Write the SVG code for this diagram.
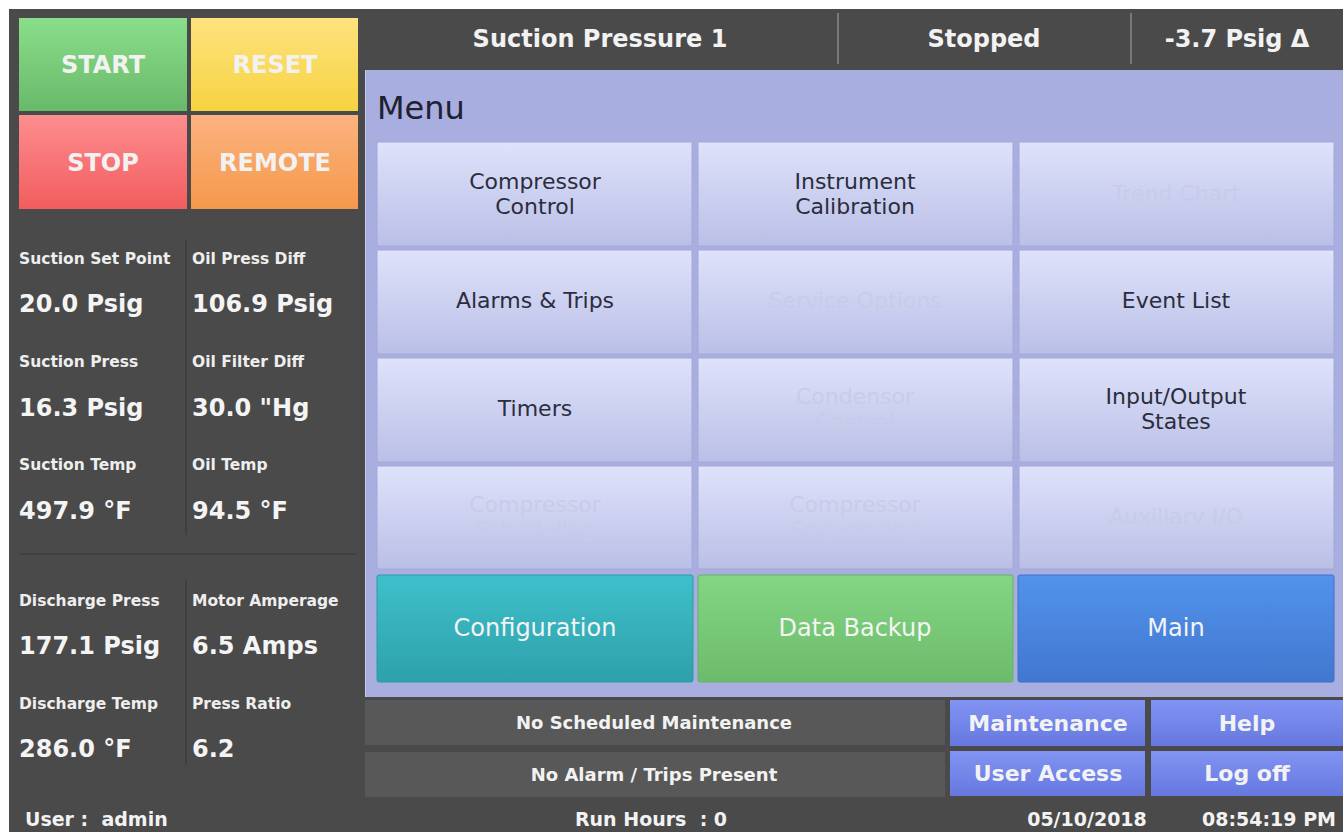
<svg xmlns="http://www.w3.org/2000/svg" width="1343" height="832" viewBox="0 0 1343 832">
<style>
  text { font-family: "DejaVu Sans", "Liberation Sans", sans-serif; }
  .w { fill: #f2f2f2; font-weight: bold; }
  .big { font-size: 24px; }
  .lbl { font-size: 15.5px; fill: #eeeeee; font-weight: bold; }
  .val { font-size: 24px; fill: #f4f4f4; font-weight: bold; }
  .menu { font-size: 22px; fill: #2b2d3c; text-anchor: middle; }
  .dis { font-size: 22px; fill: #c8cce9; text-anchor: middle; }
  .clr { font-size: 24px; fill: #f4f4f4; text-anchor: middle; }
  .mid { text-anchor: middle; }
  .gb { stroke: #a3a8d6; stroke-width: 1; }
  .div { stroke: #3c3c3c; stroke-width: 1.5; }
</style>
<defs>
  <linearGradient id="gGreen" x1="0" y1="0" x2="0" y2="1"><stop offset="0" stop-color="#8ade8a"/><stop offset="1" stop-color="#69b96a"/></linearGradient>
  <linearGradient id="gYellow" x1="0" y1="0" x2="0" y2="1"><stop offset="0" stop-color="#fee27e"/><stop offset="1" stop-color="#f6d341"/></linearGradient>
  <linearGradient id="gRed" x1="0" y1="0" x2="0" y2="1"><stop offset="0" stop-color="#fd8d8f"/><stop offset="1" stop-color="#f25d5e"/></linearGradient>
  <linearGradient id="gOrange" x1="0" y1="0" x2="0" y2="1"><stop offset="0" stop-color="#fbb37f"/><stop offset="1" stop-color="#f5984b"/></linearGradient>
  <linearGradient id="gMenu" x1="0" y1="0" x2="0" y2="1"><stop offset="0" stop-color="#dfe2fb"/><stop offset="1" stop-color="#babfe6"/></linearGradient>
  <linearGradient id="gTeal" x1="0" y1="0" x2="0" y2="1"><stop offset="0" stop-color="#3ec0ca"/><stop offset="1" stop-color="#2ea1ab"/></linearGradient>
  <linearGradient id="gLime" x1="0" y1="0" x2="0" y2="1"><stop offset="0" stop-color="#84d683"/><stop offset="1" stop-color="#6cbb6b"/></linearGradient>
  <linearGradient id="gBlue" x1="0" y1="0" x2="0" y2="1"><stop offset="0" stop-color="#5293ec"/><stop offset="1" stop-color="#4277cf"/></linearGradient>
  <linearGradient id="gPeri" x1="0" y1="0" x2="0" y2="1"><stop offset="0" stop-color="#8194f3"/><stop offset="1" stop-color="#6678df"/></linearGradient>
</defs>

<!-- background -->
<rect x="0" y="0" width="1343" height="832" fill="#ffffff"/>
<rect x="9" y="9" width="1334" height="823" fill="#4a4a4a"/>

<!-- control buttons -->
<g id="btn-start"><rect x="19" y="18" width="168" height="93" fill="url(#gGreen)"/><text class="w big mid" x="103" y="73">START</text></g>
<g id="btn-reset"><rect x="191" y="18" width="167" height="93" fill="url(#gYellow)"/><text class="w big mid" x="275" y="73">RESET</text></g>
<g id="btn-stop"><rect x="19" y="115" width="168" height="94" fill="url(#gRed)"/><text class="w big mid" x="103" y="171">STOP</text></g>
<g id="btn-remote"><rect x="191" y="115" width="167" height="94" fill="url(#gOrange)"/><text class="w big mid" x="275" y="171">REMOTE</text></g>

<!-- left readings -->
<g id="readings">
  <line class="div" x1="186" y1="240" x2="186" y2="535"/>
  <line class="div" x1="186" y1="580" x2="186" y2="765"/>
  <line class="div" x1="20" y1="554" x2="356" y2="554"/>
  <text class="lbl" x="19" y="264">Suction Set Point</text>
  <text class="val" x="19" y="312">20.0 Psig</text>
  <text class="lbl" x="192" y="264">Oil Press Diff</text>
  <text class="val" x="192" y="312">106.9 Psig</text>
  <text class="lbl" x="19" y="367">Suction Press</text>
  <text class="val" x="19" y="416">16.3 Psig</text>
  <text class="lbl" x="192" y="367">Oil Filter Diff</text>
  <text class="val" x="192" y="416">30.0 "Hg</text>
  <text class="lbl" x="19" y="470">Suction Temp</text>
  <text class="val" x="19" y="519">497.9 °F</text>
  <text class="lbl" x="192" y="470">Oil Temp</text>
  <text class="val" x="192" y="519">94.5 °F</text>
  <text class="lbl" x="19" y="606">Discharge Press</text>
  <text class="val" x="19" y="654">177.1 Psig</text>
  <text class="lbl" x="192" y="606">Motor Amperage</text>
  <text class="val" x="192" y="654">6.5 Amps</text>
  <text class="lbl" x="19" y="709">Discharge Temp</text>
  <text class="val" x="19" y="757">286.0 °F</text>
  <text class="lbl" x="192" y="709">Press Ratio</text>
  <text class="val" x="192" y="757">6.2</text>
</g>

<!-- top bar -->
<g id="topbar">
  <line x1="838" y1="13" x2="838" y2="64" stroke="#8a8a8a" stroke-width="1.5"/>
  <line x1="1131" y1="13" x2="1131" y2="64" stroke="#8a8a8a" stroke-width="1.5"/>
  <text class="w big mid" x="600" y="47">Suction Pressure 1</text>
  <text class="w big mid" x="984" y="47">Stopped</text>
  <text class="w big mid" x="1237" y="47">-3.7 Psig Δ</text>
</g>

<!-- menu panel -->
<g id="menu-panel">
  <rect x="365" y="70" width="978" height="627" fill="#a8aee0"/>
  <line x1="365.5" y1="70" x2="365.5" y2="697" stroke="#c4c8ee" stroke-width="1"/>
  <text x="377" y="119" font-size="32" fill="#1f2030">Menu</text>
</g>

<g id="m-compressor-control"><rect class="gb" x="377" y="142" width="315" height="104" fill="url(#gMenu)"/><text class="menu" x="535" y="189">Compressor</text><text class="menu" x="535" y="214">Control</text></g>
<g id="m-instrument-calibration"><rect class="gb" x="698" y="142" width="315" height="104" fill="url(#gMenu)"/><text class="menu" x="855" y="189">Instrument</text><text class="menu" x="855" y="214">Calibration</text></g>
<g id="m-trend-chart"><rect class="gb" x="1019" y="142" width="315" height="104" fill="url(#gMenu)"/><text class="dis" x="1176" y="201">Trend Chart</text></g>

<g id="m-alarms-trips"><rect class="gb" x="377" y="250" width="315" height="104" fill="url(#gMenu)"/><text class="menu" x="535" y="308">Alarms &amp; Trips</text></g>
<g id="m-service-options"><rect class="gb" x="698" y="250" width="315" height="104" fill="url(#gMenu)"/><text class="dis" x="855" y="308">Service Options</text></g>
<g id="m-event-list"><rect class="gb" x="1019" y="250" width="315" height="104" fill="url(#gMenu)"/><text class="menu" x="1176" y="308">Event List</text></g>

<g id="m-timers"><rect class="gb" x="377" y="358" width="315" height="104" fill="url(#gMenu)"/><text class="menu" x="535" y="416">Timers</text></g>
<g id="m-condensor-control"><rect class="gb" x="698" y="358" width="315" height="104" fill="url(#gMenu)"/><text class="dis" x="855" y="404">Condensor</text><text class="dis" x="855" y="429">Control</text></g>
<g id="m-io-states"><rect class="gb" x="1019" y="358" width="315" height="104" fill="url(#gMenu)"/><text class="menu" x="1176" y="404">Input/Output</text><text class="menu" x="1176" y="429">States</text></g>

<g id="m-compressor-scheduling"><rect class="gb" x="377" y="466" width="315" height="103" fill="url(#gMenu)"/><text class="dis" x="535" y="512">Compressor</text><text class="dis" x="535" y="537">Scheduling</text></g>
<g id="m-compressor-sequencing"><rect class="gb" x="698" y="466" width="315" height="103" fill="url(#gMenu)"/><text class="dis" x="855" y="512">Compressor</text><text class="dis" x="855" y="537">Sequencing</text></g>
<g id="m-auxiliary-io"><rect class="gb" x="1019" y="466" width="315" height="103" fill="url(#gMenu)"/><text class="dis" x="1176" y="524">Auxillary I/O</text></g>

<g id="m-configuration"><rect x="377" y="575" width="316" height="107" rx="2" fill="url(#gTeal)" stroke="#2f9aa3" stroke-width="1"/><text class="clr" x="535" y="636">Configuration</text></g>
<g id="m-data-backup"><rect x="698" y="575" width="315" height="107" rx="2" fill="url(#gLime)" stroke="#66b265" stroke-width="1"/><text class="clr" x="855" y="636">Data Backup</text></g>
<g id="m-main"><rect x="1018" y="575" width="316" height="107" rx="2" fill="url(#gBlue)" stroke="#3f73c8" stroke-width="1"/><text class="clr" x="1176" y="636">Main</text></g>

<!-- status -->
<g id="status-maint"><rect x="365" y="700" width="580" height="45" fill="#585858"/><text class="w mid" font-size="18" x="654" y="729">No Scheduled Maintenance</text></g>
<g id="status-alarm"><rect x="365" y="752" width="580" height="45" fill="#585858"/><text class="w mid" font-size="18" x="654" y="781">No Alarm / Trips Present</text></g>

<g id="btn-maintenance"><rect x="950" y="700" width="195" height="46" fill="url(#gPeri)"/><text class="w mid" font-size="22" x="1048" y="731">Maintenance</text></g>
<g id="btn-help"><rect x="1151" y="700" width="192" height="46" fill="url(#gPeri)"/><text class="w mid" font-size="22" x="1247" y="731">Help</text></g>
<g id="btn-user-access"><rect x="950" y="751" width="195" height="45" fill="url(#gPeri)"/><text class="w mid" font-size="22" x="1048" y="781">User Access</text></g>
<g id="btn-logoff"><rect x="1151" y="751" width="192" height="45" fill="url(#gPeri)"/><text class="w mid" font-size="22" x="1247" y="781">Log off</text></g>

<!-- footer -->
<g id="footer">
  <text class="w" font-size="19" x="25" y="826" xml:space="preserve">User :  admin</text>
  <text class="w mid" font-size="19" x="651" y="826" xml:space="preserve">Run Hours  : 0</text>
  <text class="w mid" font-size="19" x="1087" y="826">05/10/2018</text>
  <text class="w" font-size="19" x="1202" y="826">08:54:19 PM</text>
</g>
</svg>
